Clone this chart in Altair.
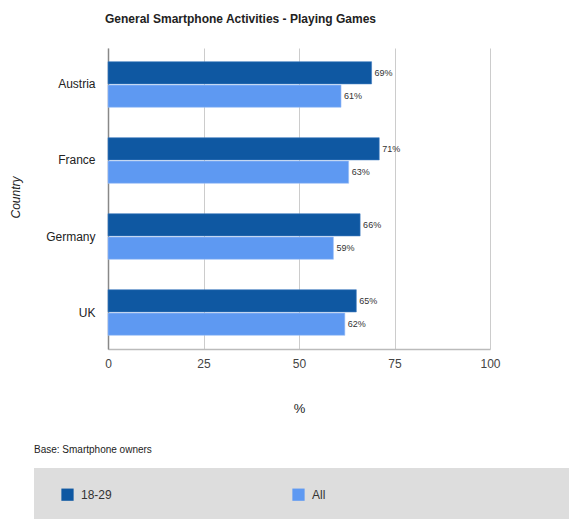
import altair as alt
import pandas as pd

countries = ["Austria", "France", "Germany", "UK"]
groups = ["18-29", "All"]
values_1829 = [69, 71, 66, 65]
values_all = [61, 63, 59, 62]
x_ticks = [0, 25, 50, 75, 100]
title_text = "General Smartphone Activities - Playing Games"
footnote = "Base: Smartphone owners"

rows = []
for c, a, b in zip(countries, values_1829, values_all):
    rows.append({"Country": c, "Group": "18-29", "Value": a, "Label": f"{a}%"})
    rows.append({"Country": c, "Group": "All", "Value": b, "Label": f"{b}%"})
df = pd.DataFrame(rows)

FONT = "Arial, Liberation Sans, sans-serif"

base = alt.Chart(df).encode(
    y=alt.Y("Country:N", sort=countries,
            scale=alt.Scale(paddingInner=0.4, paddingOuter=0.18),
            axis=alt.Axis(title="Country", titleFontStyle="italic", titleFontWeight="normal",
                          titleFontSize=12, titleColor="#222", titleX=-93, titleY=149,
                          titleAlign="center", titleBaseline="middle", titleAngle=-90,
                          labelFontSize=12, labelColor="#222", labelPadding=13,
                          ticks=False, domainColor="#888", domainWidth=1.5, grid=False)),
    yOffset=alt.YOffset("Group:N", sort=groups, scale=alt.Scale(paddingInner=0.05)),
)

bars = base.mark_bar(strokeWidth=1, strokeOpacity=0.6).encode(
    x=alt.X("Value:Q", scale=alt.Scale(domain=[0, 100]),
            axis=alt.Axis(values=x_ticks, title="%", titleFontWeight="normal", titleFontSize=13,
                          titleColor="#222", titleY=59, titleBaseline="middle",
                          labelFontSize=12, labelColor="#444", labelPadding=9, labelFlush=False,
                          ticks=False, domainColor="#bbb", domainWidth=1.5,
                          gridColor="#ccc", gridWidth=1)),
    color=alt.Color("Group:N", sort=groups,
                    scale=alt.Scale(domain=groups, range=["#0f58a2", "#5e99f2"]),
                    legend=alt.Legend(title=None, orient="none", legendX=-47, legendY=440,
                                      direction="horizontal", symbolType="square",
                                      symbolSize=150, symbolStrokeWidth=0,
                                      labelFontSize=12, labelColor="#333",
                                      columnPadding=180, labelOffset=7)),
    stroke=alt.Stroke("Group:N", sort=groups,
                      scale=alt.Scale(domain=groups, range=["#3f7cc0", "#9cc0f7"]), legend=None),
)

labels = base.mark_text(align="left", baseline="middle", dx=3, fontSize=9, color="#333", font=FONT).encode(
    x="Value:Q",
    text="Label:N",
)

box = alt.Chart(pd.DataFrame({"k": [0]})).mark_rect(color="#dddddd").encode(
    x=alt.value(-74), x2=alt.value(470), y=alt.value(420), y2=alt.value(480)
)

note = alt.Chart(pd.DataFrame({"t": [footnote]})).mark_text(
    align="left", baseline="middle", fontSize=10, color="#222", font=FONT
).encode(x=alt.value(-74), y=alt.value(402), text="t:N")

chart = alt.layer(box, note, bars, labels).properties(
    width=382, height=301,
    title=alt.TitleParams(title_text, anchor="start", frame="group", dx=-3, offset=22, fontSize=12,
                          fontWeight="bold", color="#222", font=FONT),
    autosize=alt.AutoSizeParams(type="none"),
    padding={"left": 100, "top": 40, "right": 79, "bottom": 170},
).configure(font=FONT).configure_view(stroke=None)

chart.save("out.html", embed_options={"renderer": "svg", "actions": False})
